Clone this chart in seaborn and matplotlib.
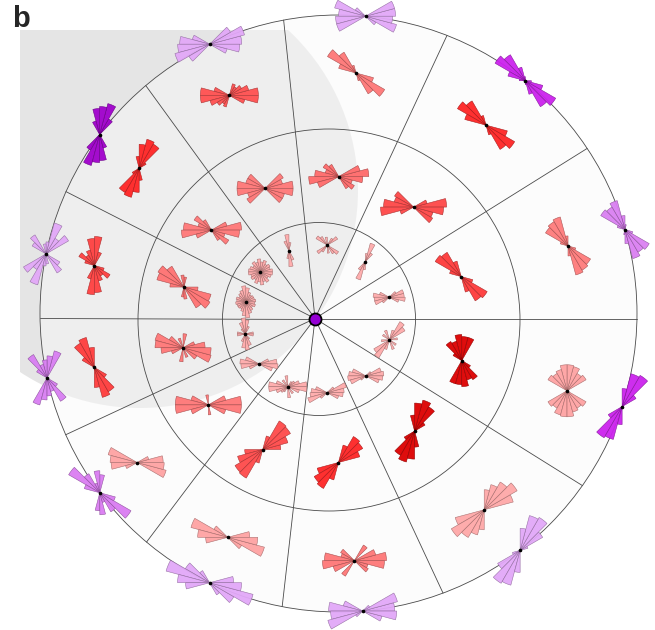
import numpy as np
import matplotlib
matplotlib.use("Agg")
import matplotlib.pyplot as plt
from matplotlib.colors import to_rgb
from matplotlib.patches import Circle, Rectangle
import seaborn as sns

# ---------------------------------------------------------------------------
# Axial rose-diagram counts, 12 bins of 15 deg over 0-180 deg (mirrored).
# One list per sector, sectors counter-clockwise from the +x axis.
# ---------------------------------------------------------------------------
rim_counts = [
    [0, 0, 0, 0, 0, 5, 14, 30, 26, 28, 8, 0],
    [0, 0, 0, 0, 0, 0, 4, 14, 30, 35, 18, 6],
    [30, 30, 0, 0, 0, 0, 0, 0, 0, 12, 32, 27],
    [32, 36, 24, 0, 0, 0, 0, 0, 0, 0, 18, 30],
    [0, 0, 0, 18, 32, 28, 26, 14, 0, 0, 0, 0],
    [0, 0, 26, 18, 32, 12, 10, 0, 22, 16, 0, 0],
    [0, 0, 0, 0, 28, 22, 18, 14, 27, 12, 0, 0],
    [0, 0, 0, 0, 0, 18, 22, 10, 22, 36, 16, 0],
    [24, 0, 0, 0, 0, 0, 0, 0, 14, 28, 45, 32],
    [32, 36, 8, 0, 0, 0, 0, 0, 0, 0, 20, 34],
    [0, 8, 26, 38, 36, 22, 0, 0, 0, 0, 0, 0],
    [0, 0, 16, 36, 34, 18, 0, 0, 0, 0, 0, 0],
]
outer_counts = [
    [0, 0, 0, 0, 0, 0, 10, 30, 28, 26, 8, 0],
    [0, 0, 0, 0, 0, 0, 0, 10, 28, 33, 22, 0],
    [0, 0, 0, 0, 0, 0, 0, 8, 24, 33, 18, 0],
    [29, 20, 14, 10, 12, 0, 0, 0, 0, 0, 16, 29],
    [0, 0, 8, 28, 30, 24, 12, 0, 0, 0, 0, 0],
    [0, 0, 0, 0, 14, 29, 27, 16, 12, 18, 10, 0],
    [0, 0, 0, 0, 0, 0, 20, 31, 28, 14, 0, 0],
    [26, 12, 0, 0, 0, 0, 0, 0, 0, 0, 30, 27],
    [22, 0, 0, 0, 0, 0, 0, 0, 0, 16, 38, 30],
    [32, 22, 0, 18, 0, 0, 0, 0, 0, 16, 14, 30],
    [0, 30, 38, 32, 26, 20, 0, 0, 0, 0, 0, 0],
    [0, 0, 22, 20, 25, 26, 26, 22, 20, 22, 0, 0],
]
middle_counts = [
    [0, 0, 0, 0, 0, 0, 0, 16, 28, 30, 12, 0],
    [33, 14, 0, 0, 0, 0, 0, 0, 0, 22, 20, 30],
    [30, 22, 0, 0, 0, 0, 0, 0, 14, 18, 14, 24],
    [28, 18, 21, 0, 0, 0, 0, 0, 0, 20, 20, 28],
    [30, 16, 0, 0, 0, 0, 0, 0, 12, 20, 14, 28],
    [0, 0, 0, 0, 0, 10, 12, 0, 24, 30, 28, 14],
    [22, 12, 0, 0, 0, 14, 0, 10, 0, 16, 29, 28],
    [33, 18, 0, 0, 0, 0, 10, 0, 0, 0, 18, 33],
    [18, 26, 32, 33, 14, 0, 0, 0, 0, 0, 0, 0],
    [0, 22, 28, 30, 18, 0, 0, 0, 0, 0, 0, 0],
    [0, 0, 12, 28, 32, 28, 16, 0, 0, 0, 0, 0],
    [0, 0, 0, 0, 24, 24, 26, 20, 22, 10, 0, 0],
]
inner_counts = [
    [15, 15, 8, 0, 0, 0, 0, 0, 0, 0, 10, 16],
    [0, 0, 0, 10, 19, 8, 0, 0, 0, 0, 0, 0],
    [0, 0, 12, 8, 0, 0, 8, 0, 10, 13, 0, 0],
    [0, 0, 0, 0, 0, 8, 16, 10, 0, 0, 0, 0],
    [12, 10, 11, 9, 12, 10, 13, 10, 12, 9, 11, 12],
    [10, 9, 9, 8, 10, 14, 16, 12, 10, 8, 10, 9],
    [8, 0, 0, 0, 8, 14, 16, 12, 6, 0, 0, 8],
    [18, 10, 0, 0, 0, 0, 0, 0, 0, 0, 14, 19],
    [19, 12, 8, 6, 0, 0, 11, 0, 8, 0, 12, 19],
    [17, 20, 8, 0, 0, 0, 0, 0, 0, 0, 12, 16],
    [18, 16, 6, 0, 0, 0, 0, 0, 0, 0, 14, 17],
    [8, 0, 18, 21, 10, 0, 0, 10, 0, 8, 0, 0],
]

# sector boundaries (deg, counter-clockwise from +x)
sector_edges = [0, 32, 65, 96, 126, 153, 180, 205, 233, 263.5, 295, 328]

# ---------------------------------------------------------------------------
# Styling
# ---------------------------------------------------------------------------
rim_colors = ["#da80f2", "#cc22ee", "#e2a8f8", "#e2a8f8", "#a000cc", "#e2a8f8",
              "#d87ef2", "#da7cf2", "#e2a8f8", "#e2a8f8", "#e2a8f8", "#cc22ee"]
outer_colors = ["#ff7b7b", "#ff2525", "#ff7777", "#ff5050", "#ff2525", "#ff4040",
                "#ff3c3c", "#ffa3a3", "#ffa3a3", "#ff7777", "#ffa8a8", "#ffa3a3"]
middle_colors = ["#ff3a3a", "#ff4848", "#ff6a6a", "#ff7777", "#ff7777", "#ff7272",
                 "#ff7777", "#ff7777", "#ff4a4a", "#ff2525", "#dd0000", "#dd0000"]
inner_colors = ["#ffabab"] * 12

# ring circles: (centre offset from hub, radius), in pixel units
ring_centres = [(4.0, -0.5), (14.0, -1.5), (23.5, 5.0)]
ring_radii = [96.5, 191.0, 298.5]

sns.set_theme(style="white")
plt.rcParams["font.family"] = ["Liberation Sans", "DejaVu Sans"]

W, H = 655, 630
hub = (315.0, 318.5)
fig = plt.figure(figsize=(W / 100, H / 100), dpi=100)
ax = fig.add_axes([0, 0, 1, 1])
ax.set_xlim(-hub[0], W - hub[0])
ax.set_ylim(-(H - hub[1]), hub[1])
ax.set_aspect("equal")
ax.axis("off")


def ray_hit(phi_deg, centre, radius):
    u = np.array([np.cos(np.radians(phi_deg)), np.sin(np.radians(phi_deg))])
    c = np.array(centre)
    cu = c @ u
    t = cu + np.sqrt(cu ** 2 - c @ c + radius ** 2)
    return t


# grey backdrop disc clipped to a rectangle
clip = Rectangle((-295, -400), 700, 688.5, transform=ax.transData)
back = Circle((-175, 128.5), 218, facecolor="#e5e5e5", edgecolor="none", zorder=0)
ax.add_patch(back)
back.set_clip_path(clip)

# main disc
ax.add_patch(Circle(ring_centres[2], ring_radii[2], facecolor="#f9f9f9",
                    alpha=0.48, edgecolor="none", zorder=1))
for c, r in zip(ring_centres, ring_radii):
    ax.add_patch(Circle(c, r, facecolor="none", edgecolor="#4a4a4a", lw=0.6, zorder=2))

for a in sector_edges:
    t = ray_hit(a, ring_centres[2], ring_radii[2])
    ax.plot([0, t * np.cos(np.radians(a))], [0, t * np.sin(np.radians(a))],
            color="#4a4a4a", lw=0.6, zorder=2)

sns.scatterplot(x=[0], y=[0], ax=ax, s=75, color="#9400d3", edgecolor="black",
                linewidth=1.3, zorder=10)

edges_ext = sector_edges + [360]
mid_angles = [(edges_ext[i] + edges_ext[i + 1]) / 2 for i in range(12)]


def darker(col, f=0.35):
    r, g, b = to_rgb(col)
    return (r * (1 - f), g * (1 - f), b * (1 - f))


def draw_rose(x, y, counts, color):
    L = 50
    ins = ax.inset_axes([x - L, y - L, 2 * L, 2 * L], transform=ax.transData,
                        projection="polar")
    n = len(counts)
    width = np.pi / n
    theta = np.arange(2 * n) * width + width / 2
    heights = np.concatenate([counts, counts])
    ins.bar(theta, heights, width=width, bottom=0, color=color,
            edgecolor=darker(color), linewidth=0.4, alpha=0.95)
    ins.plot([0], [0], marker="o", ms=1.6, color="black")
    ins.set_ylim(0, L)
    ins.axis("off")


for k, phi in enumerate(mid_angles):
    u = np.array([np.cos(np.radians(phi)), np.sin(np.radians(phi))])
    t1 = ray_hit(phi, ring_centres[0], ring_radii[0])
    t2 = ray_hit(phi, ring_centres[1], ring_radii[1])
    t3 = ray_hit(phi, ring_centres[2], ring_radii[2])
    for t, counts, colors in [(0.77 * t1, inner_counts, inner_colors),
                              ((t1 + t2) / 2, middle_counts, middle_colors),
                              ((t2 + t3) / 2, outer_counts, outer_colors),
                              (t3, rim_counts, rim_colors)]:
        p = t * u
        draw_rose(p[0], p[1], counts[k], colors[k])

fig.text(0.018, 0.957, "b", fontsize=21, fontweight="bold", va="baseline", ha="left")

fig.savefig("out.png", dpi=100)
